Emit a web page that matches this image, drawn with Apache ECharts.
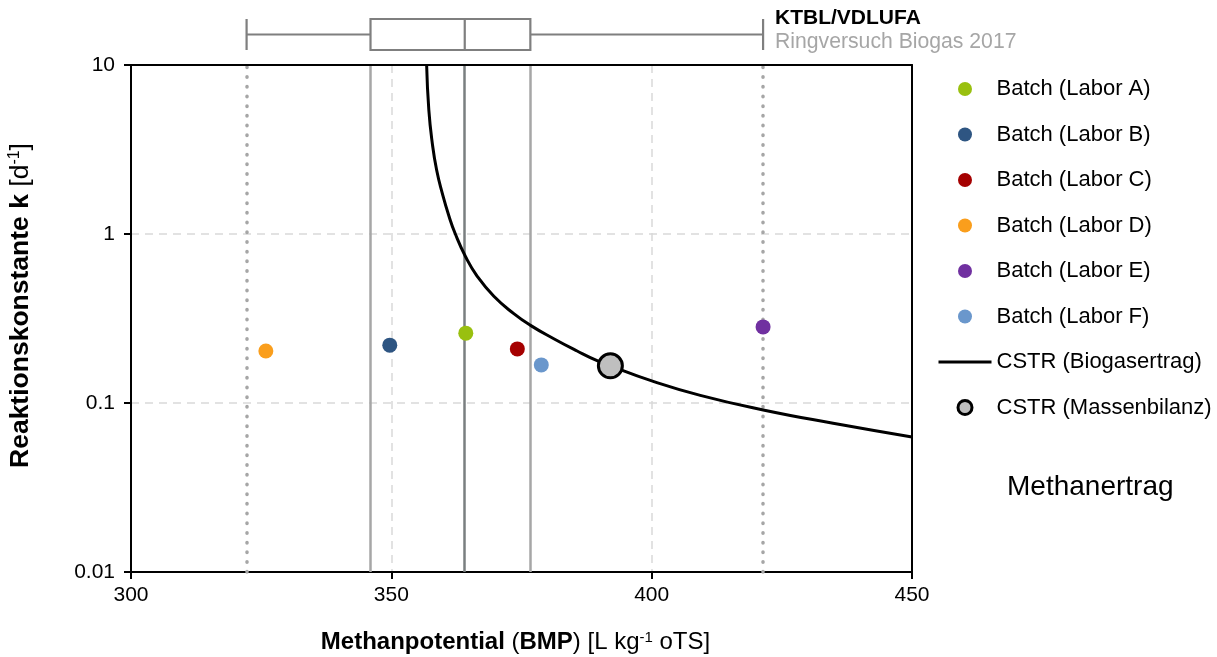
<!DOCTYPE html>
<html><head><meta charset="utf-8">
<script src="https://cdn.jsdelivr.net/npm/echarts@6/dist/echarts.min.js"></script>
<style>html,body{margin:0;padding:0;background:#fff}#c{width:1217px;height:657px}</style>
</head><body><div id="c"></div>
<script>
// ---- data ----
const labNames = ['Batch (Labor A)', 'Batch (Labor B)', 'Batch (Labor C)', 'Batch (Labor D)', 'Batch (Labor E)', 'Batch (Labor F)'];
const labBMP = [364.3, 349.7, 374.2, 325.9, 421.4, 378.8];
const labK = [0.259, 0.220, 0.209, 0.203, 0.282, 0.168];
const curveName = 'CSTR (Biogasertrag)';
const curveBMP = [356.78, 357.2, 357.87, 358.70, 359.79, 361.09, 362.24, 364.26, 366.50, 369.69, 373.52, 376.73, 381.20, 385.69, 389.52, 392.07, 399.74, 409.34, 421.42, 434.85, 450.0];
const curveK = [10, 5.42, 3.44, 2.39, 1.74, 1.27, 1.01, 0.734, 0.562, 0.428, 0.338, 0.288, 0.240, 0.203, 0.178, 0.166, 0.136, 0.111, 0.091, 0.0759, 0.063];
const massName = 'CSTR (Massenbilanz)';
const massBMP = [392.07];
const massK = [0.166];
// Ringversuch boxplot: min, Q1, median, Q3, max
const boxStats = [322.2, 346.0, 364.1, 376.7, 421.4];
const xTicks = [300, 350, 400, 450];
const yTicks = [0.01, 0.1, 1, 10];

// ---- styles ----
const labColors = ['#99c00f', '#2e5582', '#a50000', '#fa9e1c', '#7030a0', '#6a97cc'];
const FONT = 'Liberation Sans';

const series = [];
series.push({
  type: 'line', xAxisIndex: 0, yAxisIndex: 0, data: [], silent: true, z: 1,
  markLine: {
    z: 1, symbol: 'none', silent: true, label: {show: false}, animation: false,
    data: [
      {xAxis: boxStats[0], lineStyle: {color: '#a6a6a6', width: 3.5, type: [0.5, 9.2], cap: 'round'}},
      {xAxis: boxStats[4], lineStyle: {color: '#a6a6a6', width: 3.5, type: [0.5, 9.2], cap: 'round'}},
      {xAxis: boxStats[1], lineStyle: {color: '#a6a6a6', width: 2.5, type: 'solid'}},
      {xAxis: boxStats[3], lineStyle: {color: '#a6a6a6', width: 2.5, type: 'solid'}},
      {xAxis: boxStats[2], lineStyle: {color: '#7a7f80', width: 2.5, type: 'solid'}}
    ]
  }
});
series.push({
  name: curveName, type: 'line', xAxisIndex: 0, yAxisIndex: 0,
  data: curveBMP.map((x, i) => [x, curveK[i]]),
  showSymbol: false, symbol: 'none', smooth: 0.5,
  lineStyle: {color: '#000', width: 3}, itemStyle: {color: '#000'}, z: 3
});
labNames.forEach((n, i) => {
  series.push({
    name: n, type: 'scatter', xAxisIndex: 0, yAxisIndex: 0,
    data: [[labBMP[i], labK[i]]], symbol: 'circle', symbolSize: 15,
    itemStyle: {color: labColors[i], opacity: 1}, z: 4
  });
});
series.push({
  name: massName, type: 'scatter', xAxisIndex: 0, yAxisIndex: 0,
  data: massBMP.map((x, i) => [x, massK[i]]), symbol: 'circle', symbolSize: 24,
  itemStyle: {color: '#bfbfbf', borderColor: '#000', borderWidth: 3, opacity: 1}, z: 5
});
series.push({
  type: 'boxplot', xAxisIndex: 1, yAxisIndex: 1, data: [boxStats], silent: true,
  boxWidth: [31, 31],
  itemStyle: {color: '#fff', borderColor: '#7f7f7f', borderWidth: 2.2}
});

const borderLine = {show: true, lineStyle: {color: '#000', width: 2}};

const option = {
  animation: false,
  backgroundColor: '#fff',
  textStyle: {fontFamily: FONT},
  grid: [
    {left: 131, right: 305, top: 65, bottom: 85, outerBoundsMode: 'none', containLabel: false},
    {left: 131, right: 305, top: 19, height: 31, outerBoundsMode: 'none', containLabel: false}
  ],
  xAxis: [
    {
      type: 'value', gridIndex: 0, min: xTicks[0], max: xTicks[xTicks.length - 1], interval: 50,
      axisLine: borderLine,
      axisTick: {show: true, length: 7, lineStyle: {color: '#000', width: 2}},
      axisLabel: {color: '#000', fontSize: 21, margin: 13, fontFamily: FONT},
      splitLine: {show: true, lineStyle: {color: '#d9d9d9', width: 1.5, type: [8, 6]}},
      name: '{b|Methanpotential} ({b|BMP}) [L kg{s|-1} oTS]',
      nameLocation: 'middle', nameGap: 58,
      nameTextStyle: {
        fontSize: 24, color: '#000', fontFamily: FONT, padding: [0, 12, 0, 0],
        rich: {b: {fontWeight: 'bold', fontSize: 24, fontFamily: FONT, color: '#000'},
               s: {fontSize: 15, verticalAlign: 'top', lineHeight: 14, fontFamily: FONT, color: '#000'}}
      }
    },
    {type: 'value', gridIndex: 1, min: xTicks[0], max: xTicks[xTicks.length - 1], show: false},
    {type: 'value', gridIndex: 0, position: 'top', min: xTicks[0], max: xTicks[xTicks.length - 1], z: 6,
      axisLine: borderLine, axisTick: {show: false}, axisLabel: {show: false}, splitLine: {show: false}}
  ],
  yAxis: [
    {
      type: 'log', logBase: 10, gridIndex: 0, min: yTicks[0], max: yTicks[yTicks.length - 1],
      axisLine: borderLine,
      axisTick: {show: true, length: 7, lineStyle: {color: '#000', width: 2}},
      axisLabel: {color: '#000', fontSize: 21, margin: 16, fontFamily: FONT,
        formatter: v => { const m = yTicks.find(t => Math.abs(Math.log10(t) - Math.log10(v)) < 1e-6); return m !== undefined ? String(m) : ''; }},
      splitLine: {show: true, lineStyle: {color: '#d9d9d9', width: 1.5, type: [8, 6]}},
      minorTick: {show: false},
      name: '{b|Reaktionskonstante k} [d{s|-1}]',
      nameLocation: 'middle', nameGap: 97, nameRotate: 90,
      nameTextStyle: {
        fontSize: 26.5, color: '#000', fontFamily: FONT, padding: [0, 0, 0, 26],
        rich: {b: {fontWeight: 'bold', fontSize: 26.5, fontFamily: FONT, color: '#000'},
               s: {fontSize: 16, verticalAlign: 'top', lineHeight: 14, fontFamily: FONT, color: '#000'}}
      }
    },
    {type: 'category', gridIndex: 1, data: [''], show: false},
    {type: 'value', gridIndex: 0, position: 'right', min: 0, max: 1, z: 6,
      axisLine: borderLine, axisTick: {show: false}, axisLabel: {show: false}, splitLine: {show: false}}
  ],
  legend: {
    orient: 'vertical', left: 932, top: 73, padding: 5,
    itemWidth: 53, itemHeight: 14, itemGap: 23.5,
    data: labNames.concat([
      {name: curveName, itemStyle: {opacity: 0}, lineStyle: {width: 3, color: '#000'}},
      {name: massName, itemStyle: {borderWidth: 3, borderColor: '#000', color: '#bfbfbf'}}
    ]),
    textStyle: {fontSize: 22, color: '#000', fontFamily: FONT, lineHeight: 20},
    selectedMode: false
  },
  graphic: [
    {type: 'text', left: 775, top: 8, style: {text: 'KTBL/VDLUFA', fontSize: 21, fontWeight: 'bold', fill: '#000', fontFamily: FONT}},
    {type: 'text', left: 775, top: 32, style: {text: 'Ringversuch Biogas 2017', fontSize: 21.2, fill: '#a6a6a6', fontFamily: FONT}},
    {type: 'text', left: 1007, top: 473, style: {text: 'Methanertrag', fontSize: 28, fill: '#000', fontFamily: FONT}}
  ],
  series: series
};
const chart = echarts.init(document.getElementById('c'), null, {renderer: 'canvas'});
chart.setOption(option);
</script>
</body></html>
